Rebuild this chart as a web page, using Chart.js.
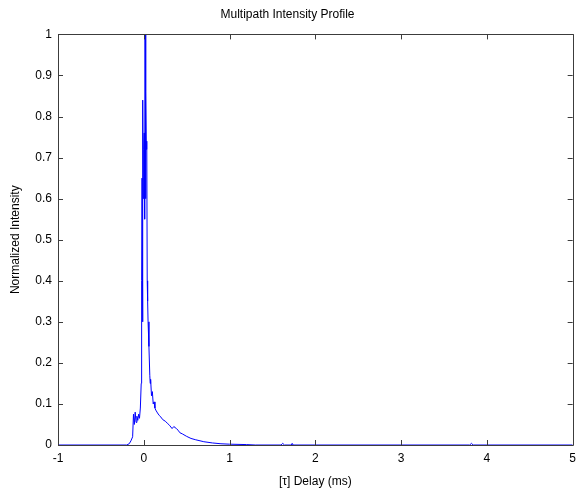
<!DOCTYPE html>
<html lang="en">

<head>
    <meta charset="UTF-8">
    <title>Multipath Intensity Profile</title>
    <script src="https://cdn.jsdelivr.net/npm/chart.js"></script>
    <style>
        html, body {
            margin: 0;
            padding: 0;
            background: #ffffff;
        }
        .container {
            width: 582px;
            height: 494px;
        }
    </style>
</head>

<body>
    <div class="container">
        <canvas id="grafico" width="582" height="494"></canvas>
    </div>
    <script>
        // delay values (ms) and normalized intensity
        const delayMs = [
            -1, -0.2, -0.17, -0.15, -0.13, -0.12, -0.11, -0.1, -0.09, -0.08,
            -0.07, -0.06, -0.05, -0.04, -0.03, -0.025, -0.02, -0.015, -0.01, -0.005,
            0, 0.005, 0.01, 0.015, 0.02, 0.025, 0.03, 0.035, 0.04, 0.045,
            0.05, 0.06, 0.07, 0.075, 0.08, 0.09, 0.1, 0.11, 0.12, 0.13,
            0.14, 0.16, 0.18, 0.2, 0.22, 0.25, 0.28, 0.3, 0.33, 0.35,
            0.38, 0.4, 0.42, 0.45, 0.5, 0.55, 0.6, 0.7, 0.8, 0.9,
            1.0, 1.2, 1.3, 1.6, 1.62, 1.64, 1.72, 1.73, 1.74, 3.8,
            3.82, 3.84, 5
        ];
        const intensity = [
            0, 0, 0.003, 0.01, 0.02, 0.075, 0.05, 0.08, 0.055, 0.07,
            0.06, 0.075, 0.065, 0.09, 0.15, 0.4, 0.65, 0.3, 0.84, 0.6,
            0.72, 0.76, 0.55, 1.0, 0.6, 0.86, 0.72, 0.74, 0.4, 0.35,
            0.3, 0.24, 0.17, 0.15, 0.16, 0.12, 0.13, 0.1, 0.105, 0.09,
            0.085, 0.078, 0.072, 0.068, 0.062, 0.058, 0.052, 0.048, 0.04, 0.045,
            0.04, 0.036, 0.03, 0.027, 0.021, 0.016, 0.013, 0.008, 0.005, 0.003,
            0.002, 0.001, 0, 0, 0.004, 0, 0, 0.004, 0, 0,
            0.004, 0, 0
        ];
        const xTicks = [-1, 0, 1, 2, 3, 4, 5];
        const yTicks = [0, 0.1, 0.2, 0.3, 0.4, 0.5, 0.6, 0.7, 0.8, 0.9, 1];

        const points = delayMs.map((d, i) => ({ x: d, y: intensity[i] }));

        // matlab style box with inward ticks on all four sides
        const boxTicks = {
            id: 'boxTicks',
            afterDraw(chart) {
                const ctx = chart.ctx;
                const a = chart.chartArea;
                const xs = chart.scales.x;
                const ys = chart.scales.y;
                const len = 5;
                ctx.save();
                ctx.strokeStyle = '#3c3c3c';
                ctx.lineWidth = 1;
                ctx.beginPath();
                ctx.rect(Math.round(a.left) + 0.5, Math.round(a.top) + 0.5,
                    Math.round(a.right - a.left), Math.round(a.bottom - a.top));
                xTicks.forEach(v => {
                    const px = Math.round(xs.getPixelForValue(v)) + 0.5;
                    ctx.moveTo(px, a.bottom);
                    ctx.lineTo(px, a.bottom - len);
                    ctx.moveTo(px, a.top);
                    ctx.lineTo(px, a.top + len);
                });
                yTicks.forEach(v => {
                    const py = Math.round(ys.getPixelForValue(v)) + 0.5;
                    ctx.moveTo(a.left, py);
                    ctx.lineTo(a.left + len, py);
                    ctx.moveTo(a.right, py);
                    ctx.lineTo(a.right - len, py);
                });
                ctx.stroke();
                ctx.restore();
            }
        };

        const font = { family: '"Liberation Sans", Arial, sans-serif', size: 12 };

        new Chart(document.getElementById('grafico').getContext('2d'), {
            type: 'line',
            data: {
                datasets: [{
                    data: points,
                    borderColor: '#0000ff',
                    borderWidth: 1,
                    pointRadius: 0,
                    tension: 0
                }]
            },
            options: {
                responsive: false,
                animation: false,
                layout: { padding: { left: 0, right: 7, top: 0, bottom: 0 } },
                plugins: {
                    legend: { display: false },
                    tooltip: { enabled: false },
                    title: {
                        display: true,
                        text: 'Multipath Intensity Profile',
                        color: '#000000',
                        font: { family: font.family, size: 12, weight: 'normal' },
                        padding: { top: 7, bottom: 13 }
                    }
                },
                scales: {
                    x: {
                        type: 'linear',
                        min: -1,
                        max: 5,
                        afterBuildTicks: s => { s.ticks = xTicks.map(v => ({ value: v })); },
                        afterFit: s => { s.height = 49; },
                        grid: { display: false, drawTicks: false },
                        border: { display: false },
                        ticks: {
                            color: '#000000', font: font, padding: 6, maxRotation: 0,
                            callback: v => String(v)
                        },
                        title: {
                            display: true,
                            text: '[\u03c4] Delay (ms)',
                            color: '#000000',
                            font: font,
                            padding: { top: 1, bottom: 5 }
                        }
                    },
                    y: {
                        min: 0,
                        max: 1,
                        afterBuildTicks: s => { s.ticks = yTicks.map(v => ({ value: v })); },
                        afterFit: s => { s.width = 58; },
                        grid: { display: false, drawTicks: false },
                        border: { display: false },
                        ticks: {
                            color: '#000000', font: font, padding: 6,
                            callback: v => String(+v.toFixed(1))
                        },
                        title: {
                            display: true,
                            text: 'Normalized Intensity',
                            color: '#000000',
                            font: font,
                            padding: { top: 8, bottom: 0 }
                        }
                    }
                }
            },
            plugins: [boxTicks]
        });
    </script>
</body>

</html>
